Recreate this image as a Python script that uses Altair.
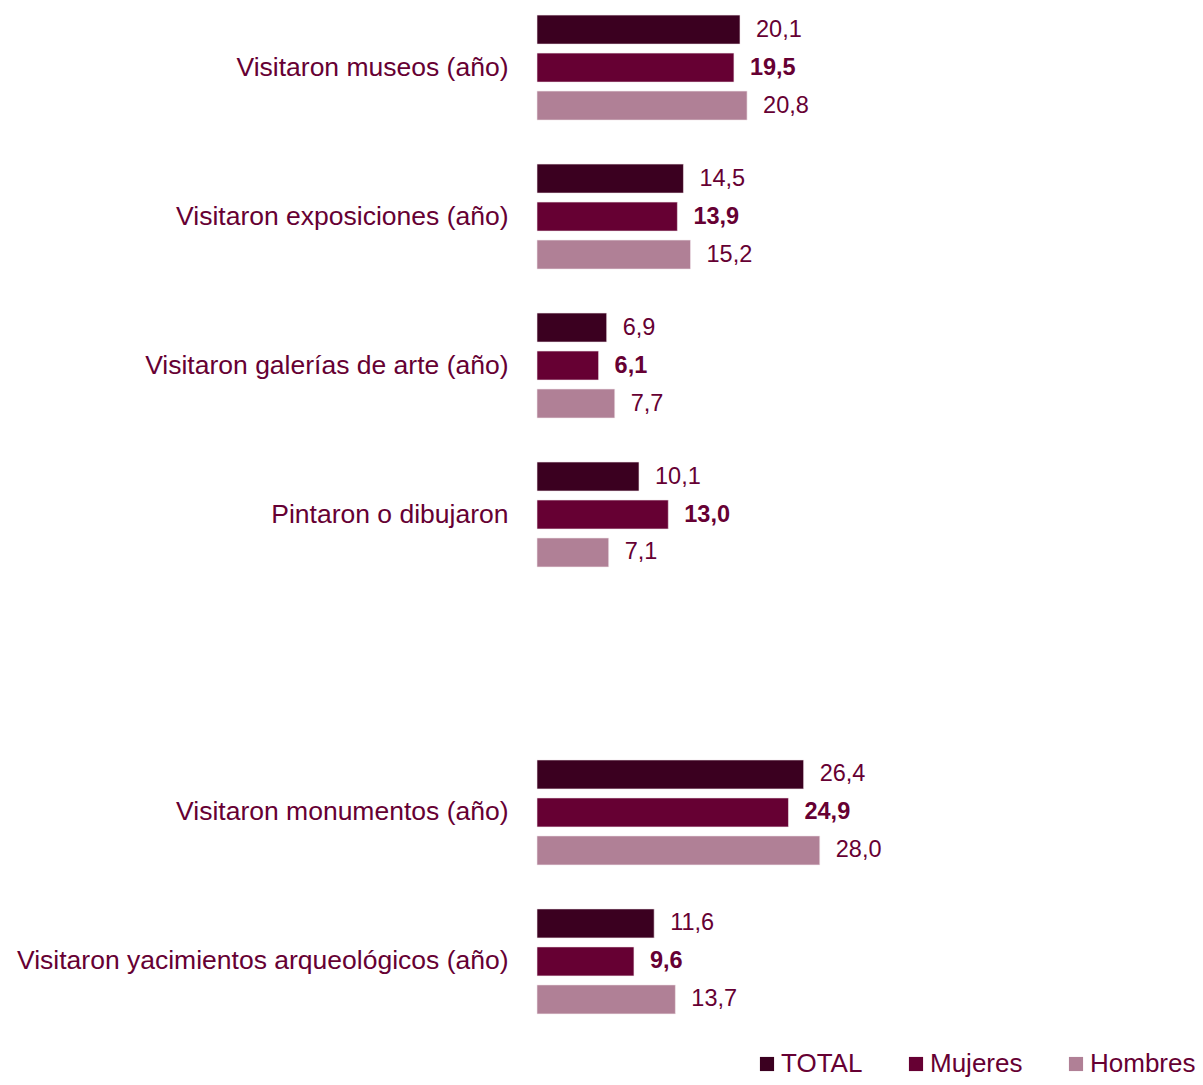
import altair as alt
import pandas as pd

categories = [
    "Visitaron museos (año)",
    "Visitaron exposiciones (año)",
    "Visitaron galerías de arte (año)",
    "Pintaron o dibujaron",
    " ",
    "Visitaron monumentos (año)",
    "Visitaron yacimientos arqueológicos (año)",
]
series = ["TOTAL", "Mujeres", "Hombres"]
total = [20.1, 14.5, 6.9, 10.1, None, 26.4, 11.6]
mujeres = [19.5, 13.9, 6.1, 13.0, None, 24.9, 9.6]
hombres = [20.8, 15.2, 7.7, 7.1, None, 28.0, 13.7]
colors = ["#3B0020", "#660033", "#B08096"]

rows = []
for i, c in enumerate(categories):
    for s, vals in zip(series, [total, mujeres, hombres]):
        v = vals[i]
        if v is None:
            continue
        rows.append({
            "cat": c,
            "serie": s,
            "valor": v,
            "etiqueta": f"{v:.1f}".replace(".", ","),
        })
df = pd.DataFrame(rows)

FONT = "Liberation Sans"
LABEL_COLOR = "#660033"

y = alt.Y("cat:N", sort=categories,
          scale=alt.Scale(domain=categories, paddingInner=0.2, paddingOuter=0),
          axis=alt.Axis(title=None, domain=False, ticks=False, labelPadding=29,
                        labelFontSize=26.5, labelFont=FONT, labelColor=LABEL_COLOR,
                        labelLimit=0))
yoff = alt.YOffset("serie:N", sort=series,
                   scale=alt.Scale(domain=series, paddingInner=0.237, paddingOuter=0.187))
x = alt.X("valor:Q", scale=alt.Scale(domain=[0, 65.15], nice=False), axis=None)

bars = alt.Chart(df).mark_bar(stroke="#f3e8ec", strokeWidth=0.6).encode(
    x=x, y=y, yOffset=yoff,
    color=alt.Color("serie:N", sort=series,
                    scale=alt.Scale(domain=series, range=colors),
                    legend=alt.Legend(title=None, orient="none", direction="horizontal",
                                      legendX=217, legendY=1043, padding=0,
                                      symbolType="square", symbolSize=200,
                                      symbolStrokeWidth=0,
                                      labelFontSize=26, labelFont=FONT,
                                      labelColor=LABEL_COLOR, columnPadding=40,
                                      labelOffset=1, labelLimit=0)),
)

text_normal = alt.Chart(df[df["serie"] != "Mujeres"]).mark_text(
    align="left", baseline="middle", dx=16, fontSize=23.5, font=FONT, color=LABEL_COLOR
).encode(x=x, y=y, yOffset=yoff, text="etiqueta:N")

text_bold = alt.Chart(df[df["serie"] == "Mujeres"]).mark_text(
    align="left", baseline="middle", dx=16, fontSize=23.5, font=FONT,
    fontWeight="bold", color=LABEL_COLOR
).encode(x=x, y=y, yOffset=yoff, text="etiqueta:N")

chart = alt.layer(bars, text_normal, text_bold).properties(
    width=658, height=1013,
    autosize=alt.AutoSizeParams(type="none"),
    padding={"left": 529, "top": 0, "right": 0, "bottom": 56},
).configure_view(stroke=None)

chart.save("out.html", embed_options={"renderer": "svg", "actions": False})
